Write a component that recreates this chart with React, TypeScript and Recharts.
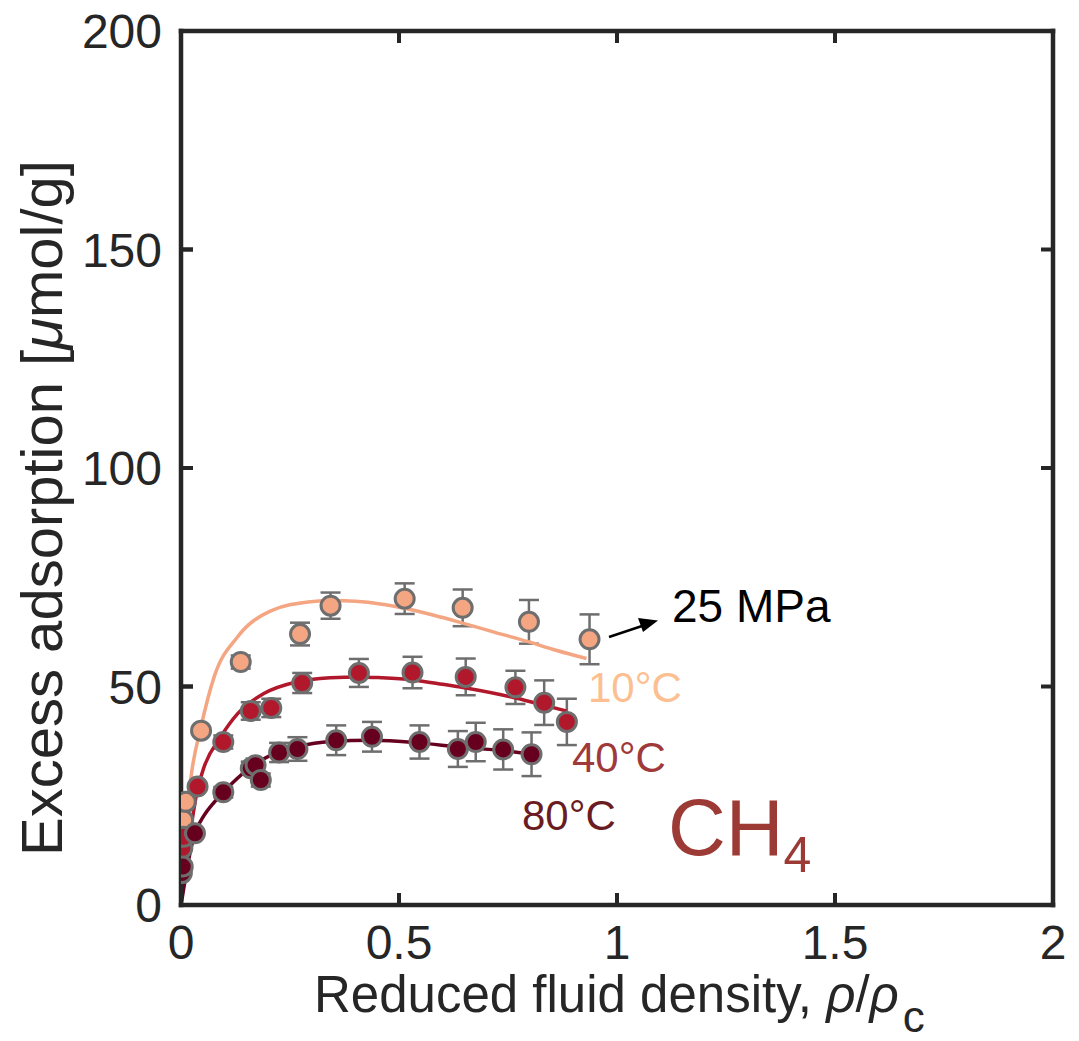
import React from 'react';
import { ComposedChart, Line, Scatter, XAxis, YAxis, ErrorBar, ReferenceLine } from 'recharts';

const xTicks = [0, 0.5, 1, 1.5, 2];
const yTicks = [0, 50, 100, 150, 200];
const xInner = [0.5, 1, 1.5];
const yInner = [50, 100, 150];

// 10°C measured points
const x10 = [0.005, 0.011, 0.046, 0.137, 0.273, 0.343, 0.513, 0.646, 0.798, 0.937];
const y10 = [19.4, 23.6, 39.9, 55.6, 62.0, 68.5, 70.1, 68.0, 64.8, 60.8];
const e10 = [0, 0, 0, 1.5, 2.6, 3.0, 3.5, 4.2, 5.0, 5.7];
// 40°C measured points
const x40 = [0.003, 0.006, 0.038, 0.097, 0.16, 0.207, 0.278, 0.408, 0.531, 0.653, 0.767, 0.833, 0.885];
const y40 = [13.0, 15.6, 27.1, 37.3, 44.4, 45.1, 50.8, 53.1, 53.2, 52.2, 49.8, 46.3, 41.9];
const e40 = [0, 0, 0, 1.5, 2.0, 2.1, 2.3, 3.2, 3.6, 4.2, 3.8, 5.1, 5.3];
// 80°C measured points
const x80 = [0.002, 0.004, 0.032, 0.097, 0.16, 0.171, 0.183, 0.225, 0.267, 0.356, 0.438, 0.547, 0.635, 0.676, 0.739, 0.804];
const y80 = [7.3, 8.8, 16.4, 25.8, 31.3, 32.0, 28.6, 34.9, 35.7, 37.7, 38.5, 37.3, 35.7, 37.3, 35.6, 34.5];
const e80 = [0, 0, 0, 1.2, 1.5, 1.5, 1.5, 2.2, 2.7, 3.4, 3.4, 3.8, 4.1, 4.4, 4.6, 5.0];

// fitted curves
const fx10 = [0, 0.005, 0.012, 0.023, 0.046, 0.076, 0.13, 0.206, 0.297, 0.35, 0.4, 0.457, 0.513, 0.58, 0.646, 0.72, 0.798, 0.86, 0.93];
const fy10 = [0, 10, 19, 29.3, 40.8, 52.2, 61.4, 67.3, 69.4, 69.7, 69.5, 68.9, 67.9, 66.3, 64.5, 62.4, 60.2, 58.3, 56.4];
const fx40 = [0, 0.005, 0.019, 0.038, 0.053, 0.091, 0.13, 0.19, 0.267, 0.343, 0.408, 0.46, 0.531, 0.6, 0.65, 0.77, 0.833, 0.884];
const fy40 = [0, 5, 15, 26.5, 31.6, 38.5, 43.8, 48.4, 51.1, 52.0, 52.2, 52.0, 51.5, 50.5, 49.7, 47.3, 45.7, 44.4];
const fx80 = [0, 0.005, 0.015, 0.032, 0.053, 0.076, 0.099, 0.152, 0.206, 0.267, 0.343, 0.438, 0.545, 0.635, 0.739, 0.804];
const fy80 = [0, 3, 9, 16.4, 20.5, 23.5, 26, 30.9, 34.3, 36.2, 37.4, 37.7, 37.1, 36.2, 35.3, 34.5];

const pts = (xs: number[], ys: number[], es?: number[]) =>
  xs.map((x, i) => ({ x, y: ys[i], err: es ? es[i] : 0 }));

const C10 = '#f4a582';
const C40 = '#b2182b';
const C80 = '#67001f';
const AX = '#262626';
const FONT = '"Liberation Sans", Arial, Helvetica, sans-serif';

const marker = (fill: string) => (p: any) => (
  <circle cx={p.cx} cy={p.cy} r={9.5} fill={fill} stroke="#6e6e6e" strokeWidth={3} />
);

const tickStyle = { fontSize: 48, fill: AX, fontFamily: FONT };
const axisLine = { stroke: AX, strokeWidth: 4.5, strokeLinecap: 'square' as const };
const tickLine = { stroke: AX, strokeWidth: 4 };

// inner tick length in axis units (12px)
const TX = 0.0275;
const TY = 2.75;

export default function App() {
  const series = [
    { d: pts(x10, y10, e10), f: pts(fx10, fy10), c: C10 },
    { d: pts(x40, y40, e40), f: pts(fx40, fy40), c: C40 },
    { d: pts(x80, y80, e80), f: pts(fx80, fy80), c: C80 },
  ];
  const tickSegs: any[] = [];
  xInner.forEach((v) => {
    tickSegs.push([{ x: v, y: 0 }, { x: v, y: TY }]);
    tickSegs.push([{ x: v, y: 200 }, { x: v, y: 200 - TY }]);
  });
  yInner.forEach((v) => {
    tickSegs.push([{ x: 0, y: v }, { x: TX, y: v }]);
    tickSegs.push([{ x: 2, y: v }, { x: 2 - TX, y: v }]);
  });
  return (
    <div style={{ position: 'absolute', left: 0, top: 0, width: 1079, height: 1041, background: '#fff' }}>
      <ComposedChart
        width={1079}
        height={1041}
        margin={{ top: 30, right: 25, left: 21, bottom: 56 }}
      >
        <XAxis
          xAxisId="b"
          dataKey="x"
          type="number"
          domain={[0, 2]}
          ticks={xTicks}
          allowDataOverflow
          height={80}
          tickSize={-12}
          tickMargin={32}
          tick={tickStyle}
          axisLine={axisLine}
          tickLine={tickLine}
          tickFormatter={(v: number) => String(v)}
        />
        <XAxis
          xAxisId="t"
          orientation="top"
          dataKey="x"
          type="number"
          domain={[0, 2]}
          ticks={xTicks}
          allowDataOverflow
          height={1}
          tickSize={-12}
          tick={false}
          axisLine={axisLine}
          tickLine={tickLine}
        />
        <YAxis
          yAxisId="l"
          type="number"
          domain={[0, 200]}
          ticks={yTicks}
          allowDataOverflow
          width={160}
          tickSize={-12}
          tickMargin={31}
          tick={tickStyle}
          axisLine={axisLine}
          tickLine={tickLine}
        />
        <YAxis
          yAxisId="r"
          orientation="right"
          type="number"
          domain={[0, 200]}
          ticks={yTicks}
          allowDataOverflow
          width={1}
          tickSize={-12}
          tick={false}
          axisLine={axisLine}
          tickLine={tickLine}
        />
        <Line
          xAxisId="t"
          yAxisId="r"
          data={pts(fx10, fy10)}
          dataKey="y"
          stroke="none"
          dot={false}
          activeDot={false}
          isAnimationActive={false}
        />
        {tickSegs.map((seg, i) => (
          <ReferenceLine
            key={'tk' + i}
            xAxisId="b"
            yAxisId="l"
            segment={seg}
            stroke={AX}
            strokeWidth={4}
            ifOverflow="visible"
          />
        ))}
        {series.map((s, i) => [
          <Scatter
            key={'s' + i}
            xAxisId="b"
            yAxisId="l"
            data={s.d}
            dataKey="y"
            fill={s.c}
            shape={marker(s.c)}
            isAnimationActive={false}
          >
            <ErrorBar dataKey="err" direction="y" width={10} stroke="#6e6e6e" strokeWidth={2.5} />
          </Scatter>,
          <Line
            key={'l' + i}
            xAxisId="b"
            yAxisId="l"
            data={s.f}
            dataKey="y"
            type="monotone"
            stroke={s.c}
            strokeWidth={3.5}
            dot={false}
            activeDot={false}
            isAnimationActive={false}
          />,
        ])}
      </ComposedChart>
      <svg
        width={1079}
        height={1041}
        style={{ position: 'absolute', left: 0, top: 0, pointerEvents: 'none' }}
        fontFamily={FONT}
      >
        <line x1={609} y1={637} x2={645} y2={625} stroke="#000" strokeWidth={2.5} />
        <path d="M658,620.5 L638,618 L643,632 z" fill="#000" />
        <text x={672} y={622} fontSize={46} fill="#000">25 MPa</text>
        <text x={588} y={702} fontSize={42} fill="#fcbf91">10°C</text>
        <text x={572} y={772} fontSize={42} fill="#a0393a">40°C</text>
        <text x={522} y={830} fontSize={42} fill="#6a1c22">80°C</text>
        <text x={668} y={855} fontSize={80} fill="#9c3a35">
          CH<tspan fontSize={50} dy={17}>4</tspan>
        </text>
        <text x={314} y={1012} fontSize={51} fill={AX}>
          Reduced fluid density, <tspan fontStyle="italic">ρ</tspan>/<tspan fontStyle="italic">ρ</tspan>
          <tspan fontSize={44} dy={20} dx={4}>c</tspan>
        </text>
        <text transform="translate(62,508) rotate(-90)" textAnchor="middle" fontSize={58} fill={AX}>
          Excess adsorption [<tspan fontStyle="italic">μ</tspan>mol/g]
        </text>
      </svg>
    </div>
  );
}
